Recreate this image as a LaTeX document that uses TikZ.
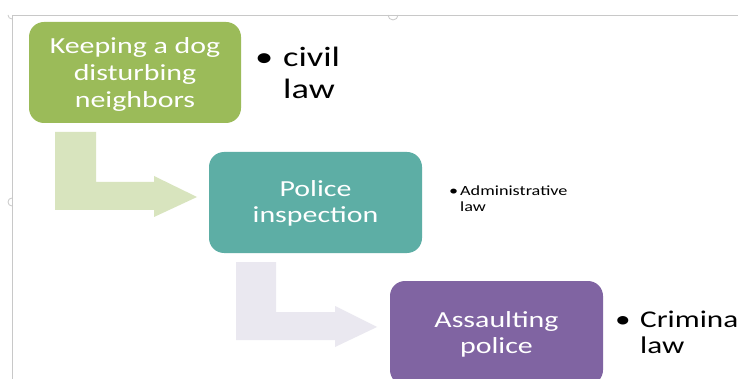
\documentclass[tikz,border=0pt]{standalone}
\usepackage{fontspec}
\setmainfont{Carlito}[FakeStretch=1.3]
\definecolor{cgreen}{RGB}{155,187,89}
\definecolor{cteal}{RGB}{93,174,165}
\definecolor{cpurple}{RGB}{128,100,162}
\definecolor{alight}{RGB}{216,228,190}
\definecolor{blight}{RGB}{234,232,240}
\definecolor{framegray}{RGB}{200,200,200}
\tikzset{
  box/.style={rectangle, rounded corners=15pt, inner sep=0pt},
  lbl/.style={text=white, align=center, inner sep=0pt},
  bul/.style={anchor=north west, inner sep=0pt, align=left, text=black},
  handle/.style={draw=framegray, line width=0.8pt},
}
\begin{document}
\begin{tikzpicture}[x=1pt,y=-1pt]
\useasboundingbox (0,0) rectangle (738,379);
\clip (0,0) rectangle (738,379);
\fill[white] (0,0) rectangle (738,379);
% frame lines and handles
\draw[handle] (12,379) -- (12,15) -- (738,15);
\draw[handle] (398,15) arc[start angle=0,end angle=180,radius=5];
\draw[handle] (12,198) arc[start angle=270,end angle=90,radius=4];
\draw[handle] (8,15) arc[start angle=180,end angle=90,radius=4];
% bent arrows
\fill[alight] (55,132) -- (96,132) -- (96,182) -- (154,182) -- (154,176) -- (197,197) -- (154,217) -- (154,210) -- (55,210) -- cycle;
\fill[blight] (236,262) -- (276,262) -- (276,312) -- (335,312) -- (335,306) -- (377,327) -- (335,347) -- (335,340) -- (236,340) -- cycle;
% boxes
\node[box, fill=cgreen, minimum width=212pt, minimum height=101pt,
  label={[lbl, yshift=-2pt, font=\fontsize{23}{27}\selectfont]center:{Keeping a dog\\disturbing\\neighbors}}] (g) at (135,72.5) {};
\node[box, fill=cteal, minimum width=213pt, minimum height=101pt,
  label={[lbl, yshift=-1pt, font=\fontsize{23}{26}\selectfont]center:{Police\\inspection}}] (t) at (315.5,202.5) {};
\node[box, fill=cpurple, minimum width=213pt, minimum height=104pt,
  label={[lbl, yshift=-1pt, font=\fontsize{23}{26}\selectfont]center:{Assaulting\\police}}] (p) at (496.5,333) {};
% bullets
\node[bul, font=\fontsize{28}{32}\selectfont] (b1) at (255,47) {\makebox[28pt][l]{•}civil\\\hspace*{28pt}law};
\node[bul, font=\fontsize{14}{16}\selectfont] (b2) at (449,186) {\makebox[11pt][l]{•}Administrative\\\hspace*{11pt}law};
\node[bul, font=\fontsize{24}{26}\selectfont] (b3) at (615,311) {\makebox[25pt][l]{•}Crimina\\\hspace*{25pt}law};
\end{tikzpicture}
\end{document}
